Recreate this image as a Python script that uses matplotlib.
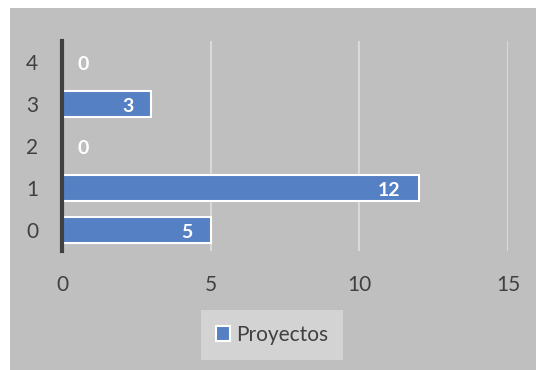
import matplotlib.pyplot as plt
from matplotlib.patches import Rectangle

# data
categories = ['0', '1', '2', '3', '4']
proyectos = [5, 12, 0, 3, 0]
x_ticks = [0, 5, 10, 15]

plt.rcParams['font.family'] = ['Lato', 'DejaVu Sans']

fig = plt.figure(figsize=(5.36, 3.70), dpi=100)
fig.patch.set_facecolor('white')
# grey chart area (leaves a thin white margin at top and left)
fig.patches.append(Rectangle((10 / 536, 0), 1, 1 - 8 / 370, transform=fig.transFigure,
                             facecolor='#bfbfbf', edgecolor='none', zorder=-10))

ax = fig.add_axes([62 / 536, 1 - 251 / 370, 446 / 536, 210 / 370])
ax.set_facecolor('none')

pos = list(range(len(categories)))
bars = ax.barh(pos, proyectos, height=0.6, color='#5580c4', edgecolor='white',
               linewidth=1.5, label='Proyectos', zorder=3)

for p, v in zip(pos, proyectos):
    if v == 0:
        ax.annotate(str(v), (v, p), xytext=(11, -2), textcoords='offset points',
                    ha='left', va='center', color='white', fontweight='bold', fontsize=14)
    else:
        ax.annotate(str(v), (v, p), xytext=(-13, -2), textcoords='offset points',
                    ha='right', va='center', color='white', fontweight='bold', fontsize=14)

ax.set_xlim(0, 15)
ax.set_ylim(-0.5, 4.5)
ax.set_xticks(x_ticks)
ax.set_yticks(pos)
ax.set_yticklabels(categories)
ax.xaxis.grid(True, color='#d9d9d9', linewidth=1.5, zorder=1)
ax.set_axisbelow(True)

for s in ['top', 'right', 'bottom']:
    ax.spines[s].set_visible(False)
ax.spines['left'].set_color('#404040')
ax.spines['left'].set_linewidth(3)
ax.spines['left'].set_zorder(4)

ax.tick_params(axis='both', length=0, labelsize=15, labelcolor='#404040')
ax.tick_params(axis='x', pad=17)
ax.tick_params(axis='y', pad=17)

leg = fig.legend(loc='center', bbox_to_anchor=(272 / 536, 1 - 335 / 370), fontsize=15,
                 frameon=True, fancybox=False, handlelength=0.7, handleheight=0.7,
                 handletextpad=0.3, borderpad=0.7)
leg.get_frame().set_facecolor('#d3d3d3')
leg.get_frame().set_edgecolor('none')
leg.get_frame().set_alpha(1)
for t in leg.get_texts():
    t.set_color('#404040')

fig.savefig('out.png', dpi=100)
